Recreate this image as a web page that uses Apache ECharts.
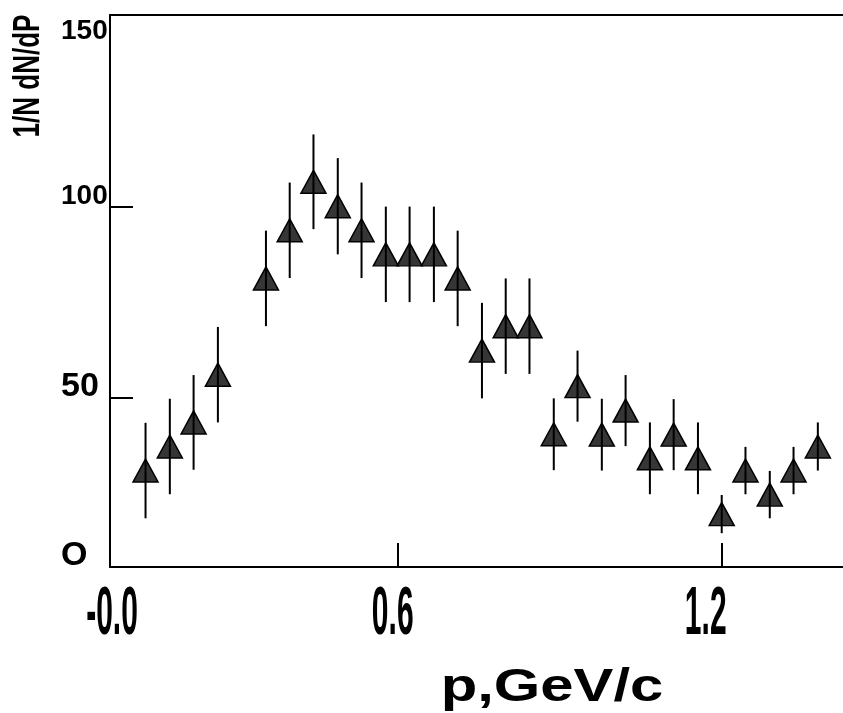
<!DOCTYPE html>
<html>
<head>
<meta charset="utf-8">
<script src="https://cdn.jsdelivr.net/npm/echarts@6/dist/echarts.min.js"></script>
<style>
  html, body { margin: 0; padding: 0; background: #fff; }
  #chart { width: 843px; height: 713px; }
</style>
</head>
<body>
<div id="chart"></div>
<script>
// bin centres, GeV/c
var momentum = [0.133, 0.178, 0.222, 0.267, 0.356, 0.400, 0.444, 0.489, 0.533, 0.578,
  0.622, 0.667, 0.711, 0.756, 0.800, 0.844, 0.889, 0.933, 0.978, 1.022,
  1.067, 1.111, 1.156, 1.200, 1.244, 1.289, 1.333, 1.378]
// 1/N dN/dP
var counts = [31.0, 37.3, 43.6, 56.1, 81.3, 93.9, 106.6, 100.2, 93.9, 87.6,
  87.6, 87.6, 81.3, 62.4, 68.8, 68.8, 40.5, 53.1, 40.4, 46.7,
  34.2, 40.4, 34.2, 19.6, 31.0, 24.7, 31.0, 37.3]
// half length of the error bars
var errors = [12.5, 12.5, 12.4, 12.5, 12.5, 12.5, 12.4, 12.6, 12.5, 12.5,
  12.5, 12.5, 12.5, 12.5, 12.5, 12.5, 9.4, 9.3, 9.4, 9.3,
  9.4, 9.3, 9.4, 5.0, 6.2, 6.2, 6.2, 6.3]

var xTickValues = [0, 0.6, 1.2]
var xTickLabels = ['-0.0', '0.6', '1.2']
var yTickValues = [0, 50, 100, 150]
var yTickLabels = ['O', '50', '100', '150']
var xTickMarks = [0.6, 1.2]
var yTickMarks = [50, 100]

var xMin = 0.0672, xMax = 1.4246
var yMin = 5.75, yMax = 150.26

var FONT = '"Liberation Sans", Arial, Helvetica, sans-serif'
var black = '#000'

var chart = echarts.init(document.getElementById('chart'))

var option = {
  animation: false,
  backgroundColor: '#fff',
  grid: { left: 110, top: 15, width: 733, height: 552 },
  xAxis: [{
    type: 'value',
    min: xMin,
    max: xMax,
    position: 'bottom',
    axisLine: { onZero: false, lineStyle: { color: black, width: 2 } },
    axisTick: { inside: true, length: 24, customValues: xTickMarks, lineStyle: { color: black, width: 2 } },
    axisLabel: { show: false },
    splitLine: { show: false }
  }, {
    // top frame line
    type: 'value',
    min: xMin,
    max: xMax,
    position: 'top',
    axisLine: { onZero: false, lineStyle: { color: black, width: 2 } },
    axisTick: { show: false },
    axisLabel: { show: false },
    splitLine: { show: false }
  }],
  yAxis: {
    type: 'value',
    min: yMin,
    max: yMax,
    position: 'left',
    axisLine: { onZero: false, lineStyle: { color: black, width: 2 } },
    axisTick: { inside: true, length: 23, customValues: yTickMarks, lineStyle: { color: black, width: 2 } },
    axisLabel: { show: false },
    splitLine: { show: false }
  },
  series: [{
    type: 'scatter',
    data: momentum.map(function (p, i) { return [p, counts[i]] }),
    symbol: 'triangle',
    symbolSize: [25, 23],
    itemStyle: { color: '#363636', borderColor: black, borderWidth: 1.5, opacity: 1 },
    z: 2
  }, {
    type: 'custom',
    data: momentum.map(function (p, i) { return [p, counts[i], errors[i]] }),
    encode: { x: 0, y: 1 },
    renderItem: function (params, api) {
      var top = api.coord([api.value(0), api.value(1) + api.value(2)])
      var bot = api.coord([api.value(0), api.value(1) - api.value(2)])
      return {
        type: 'line',
        shape: { x1: top[0], y1: top[1], x2: bot[0], y2: bot[1] },
        style: { stroke: black, lineWidth: 2 }
      }
    },
    z: 3
  }]
}
chart.setOption(option)

// tick labels, placed through the axes' own scales
var xLabelNudge = [2, -5, -16]
var yLabelSize = [34, 34, 28, 28]
var left = chart.convertToPixel({ xAxisIndex: 0 }, xMin)
var bottom = chart.convertToPixel({ yAxisIndex: 0 }, yMin)
var topPx = chart.convertToPixel({ yAxisIndex: 0 }, yMax)
var graphics = []

xTickValues.forEach(function (v, i) {
  var px = Math.max(chart.convertToPixel({ xAxisIndex: 0 }, v), left)
  graphics.push({
    type: 'text',
    x: px + xLabelNudge[i],
    y: 615,
    scaleY: 2.28,
    style: {
      text: xTickLabels[i], font: 'bold 30px ' + FONT, fill: black,
      textAlign: 'center', textVerticalAlign: 'middle', align: 'center', verticalAlign: 'middle'
    }
  })
})

yTickValues.forEach(function (v, i) {
  var py = chart.convertToPixel({ yAxisIndex: 0 }, v)
  py = Math.min(Math.max(py, topPx), bottom)
  var dy = v >= yMax - 1 ? 15 : -11
  graphics.push({
    type: 'text',
    x: 61,
    y: py + dy,
    style: {
      text: yTickLabels[i], font: 'bold ' + yLabelSize[i] + 'px ' + FONT, fill: black,
      textAlign: 'left', textVerticalAlign: 'middle', align: 'left', verticalAlign: 'middle'
    }
  })
})

// axis titles
graphics.push({
  type: 'text',
  x: 29,
  y: 76,
  rotation: Math.PI / 2,
  scaleY: 1.4,
  style: {
    text: '1/N dN/dP', font: 'bold 26px ' + FONT, fill: black,
    textAlign: 'center', textVerticalAlign: 'middle', align: 'center', verticalAlign: 'middle'
  }
})
graphics.push({
  type: 'text',
  x: 552,
  y: 688,
  scaleX: 1.3,
  style: {
    text: 'p,GeV/c', font: 'bold 46px ' + FONT, fill: black,
    textAlign: 'center', textVerticalAlign: 'middle', align: 'center', verticalAlign: 'middle'
  }
})

chart.setOption({ graphic: graphics })
</script>
</body>
</html>
